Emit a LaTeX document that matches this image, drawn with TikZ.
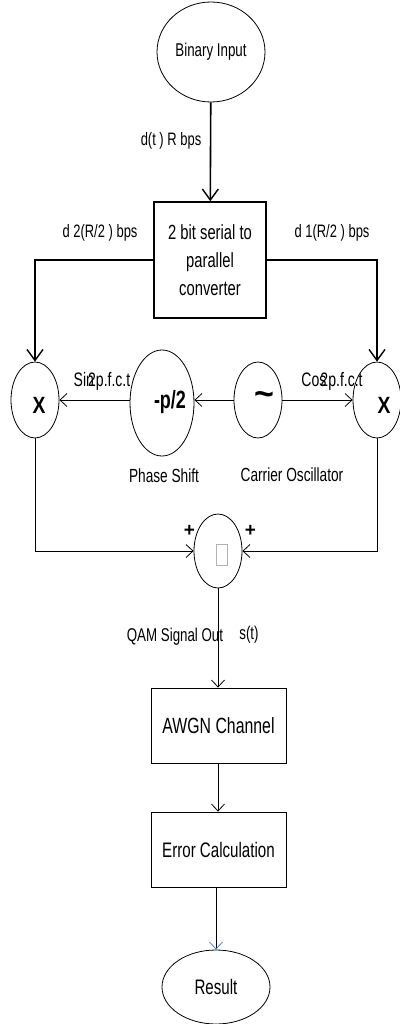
\documentclass[tikz,border=0pt]{standalone}
\usepackage{fontspec}
\setmainfont{Liberation Sans}[FakeStretch=0.72]
\newfontfamily\plainsans{Liberation Sans}
\newfontfamily\semisans{Liberation Sans}[FakeStretch=0.82]
\usetikzlibrary{arrows.meta,shapes.geometric}
\definecolor{tipblue}{HTML}{4F81BD}
\newcommand\myfs[1]{\fontsize{#1}{#1}\selectfont}
\begin{document}
\begin{tikzpicture}[x=1pt,y=-1pt,
  thickline/.style={line width=1.6pt},
  thinline/.style={line width=0.8pt},
  oval/.style={draw, ellipse, line width=0.8pt, inner sep=0},
  box/.style={draw, rectangle, inner sep=0, align=center},
  lbl/.style={inner sep=0, anchor=center},
  sym/.style={inner sep=0, anchor=center, font=\plainsans\bfseries\myfs{#1}},
  bigtip/.style={-{Straight Barb[length=11pt,width=16pt,line width=1.4pt]}},
  smalltip/.style={-{Straight Barb[length=7pt,width=13pt,line width=0.8pt]}},
]
\useasboundingbox (0,0) rectangle (399,1024);

% nodes
\node[oval, minimum width=108pt, minimum height=100pt, font=\myfs{18.5}] (bin) at (211,52) {Binary Input};
\node[box, thickline, minimum width=112pt, minimum height=116pt,
      font=\fontsize{20.5}{28}\selectfont] (conv) at (210,260) {2 bit serial to\\parallel\\converter};
\node[oval, minimum width=48pt, minimum height=76pt] (xl) at (35,400) {};
\node[oval, minimum width=48pt, minimum height=76pt] (xr) at (377,400) {};
\node[oval, minimum width=64pt, minimum height=106pt] (ph) at (162,403) {};
\node[oval, minimum width=48pt, minimum height=76pt] (osc) at (258,400) {};
\node[oval, minimum width=48pt, minimum height=74pt] (sum) at (218,551) {};
\node[box, thinline, minimum width=135pt, minimum height=75pt, font=\myfs{22}] (awgn) at (218.5,725.5) {AWGN Channel};
\node[box, thinline, minimum width=135pt, minimum height=75pt, font=\myfs{21}] (err) at (218.5,849.5) {Error Calculation};
\node[oval, minimum width=108pt, minimum height=74pt, font=\myfs{21}] (res) at (216,987) {Result};

% inner symbols
\node[lbl, font=\semisans\bfseries\myfs{23.5}] (xlt) at (39,405) {X};
\node[lbl, font=\semisans\bfseries\myfs{23.5}] (xrt) at (384,405) {X};
\node[lbl, font=\bfseries\myfs{25}] (pht) at (170,402) {-p/2};
\node[sym=34] (osct) at (264,399) {\textasciitilde};
\node[draw=gray!60, line width=0.6pt, minimum width=11pt, minimum height=21pt, inner sep=0] (sigma) at (221.5,554.5) {};

% labels
\node[lbl, font=\myfs{18}] (ldt) at (171,141) {d(t ) R bps};
\node[lbl, font=\myfs{18}] (ld2) at (100,233) {d 2(R/2 ) bps};
\node[lbl, font=\myfs{18}] (ld1) at (332,233) {d 1(R/2 ) bps};
\node[lbl, font=\myfs{19.5}] (lsin) at (102,381) {Sin\kern-0.3em 2p.f.c.t};
\node[lbl, font=\myfs{19.5}] (lcos) at (332,381) {Cos\kern-0.3em 2p.f.c.t};
\node[lbl, font=\myfs{19}] (lph) at (164,476) {Phase Shift};
\node[lbl, font=\myfs{19}] (losc) at (292,475) {Carrier Oscillator};
\node[sym=19] (pl) at (189.5,531) {+};
\node[sym=19] (pr) at (250.5,531) {+};
\node[lbl, font=\myfs{18.5}] (lqam) at (175,637) {QAM Signal Out};
\node[lbl, font=\myfs{18.5}] (lst) at (249,635) {s(t)};

% connectors
\draw[thickline, bigtip] (bin) -- (conv);
\draw[thickline, bigtip] (conv.west) -| (xl.north);
\draw[thickline, bigtip] (conv.east) -| (xr.north);
\draw[thinline, smalltip] (osc.west) -- (ph.east |- osc.west);
\draw[thinline, smalltip] (ph.west |- xl.east) -- (xl.east);
\draw[thinline, smalltip] (osc.east) -- (xr.west);
\draw[thinline, smalltip] (xl.south) |- (sum.west);
\draw[thinline, smalltip] (xr.south) |- (sum.east);
\draw[thinline, smalltip] (sum.south) -- (sum.south |- awgn.north);
\draw[thinline, smalltip] (awgn.south -| sum.south) -- (err.north -| sum.south);
\draw[thinline, -{Straight Barb[length=7pt,width=13pt,line width=0.8pt,color=tipblue]}] (err.south -| res.north) -- (res.north);
\end{tikzpicture}
\end{document}
